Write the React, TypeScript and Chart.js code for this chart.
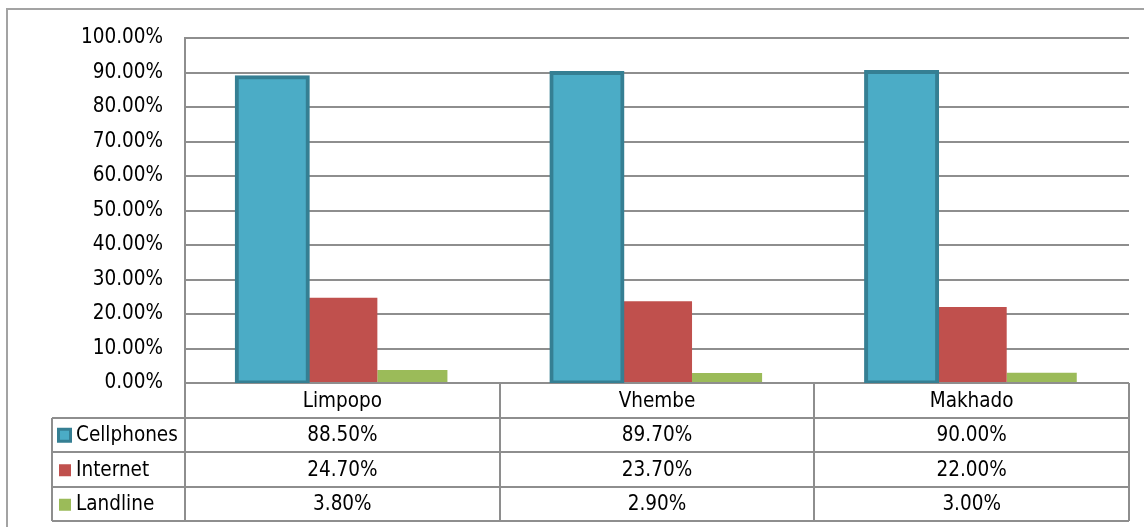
import React, { useEffect, useRef } from "react";
import { Chart, registerables } from "chart.js";

Chart.register(...registerables);

const categories = ["Limpopo", "Vhembe", "Makhado"];
const seriesNames = ["Cellphones", "Internet", "Landline"];
const cellphones = [88.5, 89.7, 90.0];
const internet = [24.7, 23.7, 22.0];
const landline = [3.8, 2.9, 3.0];
const yTickValues = [0, 10, 20, 30, 40, 50, 60, 70, 80, 90, 100];

const FONT = '"DejaVu Sans Condensed", "DejaVu Sans", sans-serif';
const FONT_SIZE = 20.5;
const LINE = "#8e8e8e";

const fmt = (v: number) => v.toFixed(2) + "%";

const tablePlugin = {
  id: "dataTable",
  beforeDraw(chart: any) {
    const ctx = chart.ctx;
    ctx.save();
    ctx.strokeStyle = "#a3a3a3";
    ctx.lineWidth = 2;
    ctx.beginPath();
    ctx.moveTo(7, 600);
    ctx.lineTo(7, 9);
    ctx.lineTo(1200, 9);
    ctx.stroke();
    ctx.restore();
  },
  afterDraw(chart: any) {
    const ctx = chart.ctx;
    const { left, right, bottom } = chart.chartArea;
    const rowH = (chart.scales.y.getPixelForValue(0) - chart.scales.y.getPixelForValue(10));
    const legendLeft = 52;
    const n = categories.length;
    const colW = (right - left) / n;
    const rowsTop = bottom + rowH;
    const tableBottom = bottom + rowH * 4;
    ctx.save();
    ctx.strokeStyle = LINE;
    ctx.lineWidth = 2;
    ctx.beginPath();
    for (let r = 1; r <= 4; r++) {
      const y = Math.round(bottom + rowH * r);
      ctx.moveTo(legendLeft, y);
      ctx.lineTo(right, y);
    }
    ctx.moveTo(legendLeft, Math.round(rowsTop));
    ctx.lineTo(legendLeft, Math.round(tableBottom));
    for (let c = 0; c <= n; c++) {
      const x = Math.round(left + colW * c);
      ctx.moveTo(x, bottom);
      ctx.lineTo(x, Math.round(tableBottom));
    }
    ctx.stroke();

    ctx.fillStyle = "#000";
    ctx.font = `${FONT_SIZE}px ${FONT}`;
    ctx.textBaseline = "middle";
    ctx.textAlign = "center";
    categories.forEach((cat, i) => {
      ctx.fillText(cat, left + colW * (i + 0.5), bottom + rowH * 0.5 + 1);
    });
    const series = [cellphones, internet, landline];
    series.forEach((vals, r) => {
      const cy = rowsTop + rowH * (r + 0.5) + 1;
      ctx.textAlign = "center";
      vals.forEach((v, i) => {
        ctx.fillText(fmt(v), left + colW * (i + 0.5), cy);
      });
      const ds = chart.data.datasets[r];
      if (r === 0) {
        ctx.fillStyle = ds.borderColor;
        ctx.fillRect(57, cy - 8, 15, 15);
        ctx.fillStyle = ds.backgroundColor;
        ctx.fillRect(60, cy - 5, 9, 9);
      } else {
        ctx.fillStyle = ds.backgroundColor;
        ctx.fillRect(59, cy - 6, 12, 12);
      }
      ctx.fillStyle = "#000";
      ctx.textAlign = "left";
      ctx.fillText(seriesNames[r], 76, cy);
    });
    ctx.restore();
  },
};

export default function App() {
  const ref = useRef<HTMLCanvasElement | null>(null);
  useEffect(() => {
    if (!ref.current) return;
    const chart = new Chart(ref.current, {
      type: "bar",
      data: {
        labels: categories,
        datasets: [
          {
            label: seriesNames[0],
            data: cellphones,
            backgroundColor: "#4bacc6",
            borderColor: "#357f93",
            borderWidth: 4,
            borderSkipped: false,
            inflateAmount: 2.5,
          },
          {
            label: seriesNames[1],
            data: internet,
            backgroundColor: "#c0504d",
            borderColor: "#c0504d",
            borderWidth: 0,
            inflateAmount: 0,
          },
          {
            label: seriesNames[2],
            data: landline,
            backgroundColor: "#9bbb59",
            borderColor: "#9bbb59",
            borderWidth: 0,
            inflateAmount: 0,
          },
        ],
      },
      options: {
        responsive: false,
        animation: false,
        layout: { padding: { left: 0, top: 38, right: 15, bottom: 144 } },
        datasets: {
          bar: { categoryPercentage: 0.668, barPercentage: 1.0 },
        },
        plugins: {
          legend: { display: false },
          tooltip: { enabled: false },
          title: { display: false },
        },
        scales: {
          x: {
            display: false,
            grid: { display: false },
          },
          y: {
            min: 0,
            max: 100,
            afterFit: (scale: any) => {
              scale.width = 185;
            },
            afterBuildTicks: (scale: any) => {
              scale.ticks = yTickValues.map((v) => ({ value: v }));
            },
            grid: {
              color: LINE,
              lineWidth: 2,
              drawTicks: false,
            },
            border: { display: true, color: LINE, width: 2 },
            ticks: {
              padding: 22,
              color: "#000",
              font: { family: FONT, size: FONT_SIZE },
              callback: (v: any) => fmt(Number(v)),
            },
          },
        },
      },
      plugins: [tablePlugin],
    });
    return () => chart.destroy();
  }, []);
  return (
    <div style={{ position: "absolute", left: 0, top: 0, width: 1144, height: 527, background: "#fff" }}>
      <canvas ref={ref} width={1144} height={527} />
    </div>
  );
}
